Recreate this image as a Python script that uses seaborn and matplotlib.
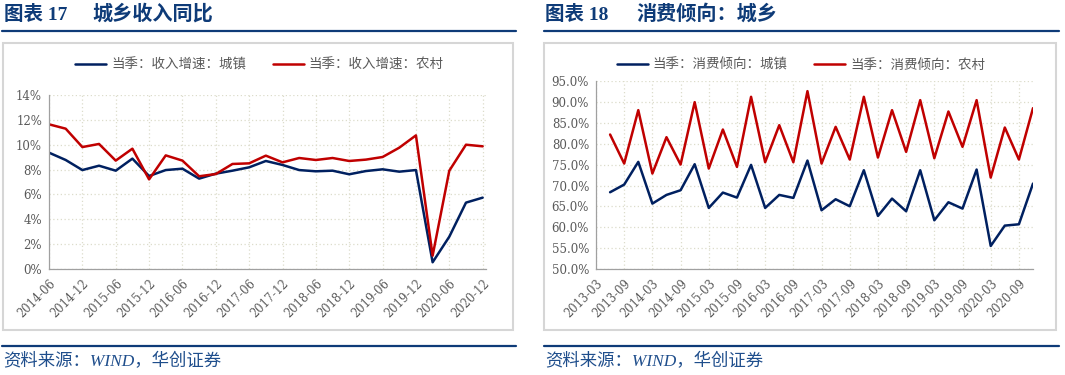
import numpy as np
import pandas as pd
import seaborn as sns
import matplotlib
matplotlib.use("Agg")
import matplotlib.pyplot as plt
from matplotlib.lines import Line2D
from matplotlib.patches import Rectangle
from matplotlib.ticker import FuncFormatter

# ---- data ----
income_quarters = ["2014-06", "2014-09", "2014-12", "2015-03", "2015-06", "2015-09", "2015-12",
                   "2016-03", "2016-06", "2016-09", "2016-12", "2017-03", "2017-06", "2017-09",
                   "2017-12", "2018-03", "2018-06", "2018-09", "2018-12", "2019-03", "2019-06",
                   "2019-09", "2019-12", "2020-03", "2020-06", "2020-09", "2020-12"]
urban_income = [9.36, 8.77, 7.96, 8.31, 7.91, 8.88, 7.48, 7.96, 8.07, 7.27, 7.67, 7.91, 8.18, 8.69,
                8.37, 7.96, 7.86, 7.91, 7.62, 7.88, 8.02, 7.83, 7.96, 0.54, 2.60, 5.34, 5.74]
rural_income = [11.64, 11.29, 9.81, 10.06, 8.72, 9.68, 7.21, 9.14, 8.72, 7.46, 7.64, 8.45, 8.50, 9.12,
                8.58, 8.93, 8.77, 8.93, 8.69, 8.80, 9.01, 9.76, 10.75, 1.07, 7.91, 10.00, 9.87]

mpc_quarters = ["2013-03", "2013-06", "2013-09", "2013-12", "2014-03", "2014-06", "2014-09", "2014-12",
                "2015-03", "2015-06", "2015-09", "2015-12", "2016-03", "2016-06", "2016-09", "2016-12",
                "2017-03", "2017-06", "2017-09", "2017-12", "2018-03", "2018-06", "2018-09", "2018-12",
                "2019-03", "2019-06", "2019-09", "2019-12", "2020-03", "2020-06", "2020-09", "2020-12"]
# first quarter (2013-03) has no value
urban_mpc = [None, 68.40, 70.24, 75.68, 65.68, 67.76, 68.88, 75.12, 64.64, 68.32, 67.12, 74.96, 64.64,
             67.76, 67.04, 76.00, 64.08, 66.72, 65.04, 73.68, 62.72, 66.88, 63.84, 73.68, 61.68,
             66.00, 64.48, 73.84, 55.52, 60.40, 60.72, 70.48]
rural_mpc = [None, 82.24, 75.28, 88.08, 72.88, 81.60, 75.04, 90.00, 74.08, 83.44, 74.48, 91.28, 75.60,
             84.48, 75.60, 92.64, 75.28, 84.08, 76.24, 91.28, 76.72, 88.08, 78.08, 90.48, 76.56,
             87.76, 79.28, 90.48, 71.92, 83.92, 76.24, 88.56]

income_names = ["当季：收入增速：城镇", "当季：收入增速：农村"]
mpc_names = ["当季：消费倾向：城镇", "当季：消费倾向：农村"]

NAVY = "#002060"
RED = "#C00000"
TITLE_BLUE = "#0e3b78"
TXT = "#595959"
GRID = "#dcdccb"

sns.set_style("white")
plt.rcParams["font.family"] = ["DejaVu Serif", "Noto Sans CJK SC"]

fig = plt.figure(figsize=(10.65, 3.75), dpi=100)

df_inc = pd.DataFrame({"pos": list(range(len(income_quarters))) * 2,
                       "val": urban_income + rural_income,
                       "series": [income_names[0]] * len(urban_income) + [income_names[1]] * len(rural_income)})
df_mpc = pd.DataFrame({"pos": list(range(len(mpc_quarters))) * 2,
                       "val": urban_mpc + rural_mpc,
                       "series": [mpc_names[0]] * len(urban_mpc) + [mpc_names[1]] * len(rural_mpc)}).dropna()
df_mpc["val"] = df_mpc["val"].astype(float)

ax1 = fig.add_axes([49 / 1065, 0.2827, (486 - 49) / 1065, 0.464])
ax2 = fig.add_axes([596 / 1065, 0.2827, (1033 - 596) / 1065, 0.5005])

sns.lineplot(data=df_inc, x="pos", y="val", hue="series", palette=[NAVY, RED],
             linewidth=1.8, ax=ax1, legend=False)
sns.lineplot(data=df_mpc, x="pos", y="val", hue="series", palette=[NAVY, RED],
             linewidth=1.8, ax=ax2, legend=False)


def style_axis(ax, cats, ylim, ystep, fmt, xpad):
    ax.set_xlim(0, len(cats) - 1 + xpad)
    ax.set_ylim(*ylim)
    ticks = list(range(0, len(cats), 2))
    ax.set_xticks(ticks)
    ax.set_xticklabels([cats[i] for i in ticks], rotation=45, ha="right", va="top",
                       rotation_mode="anchor", fontsize=8.3, color=TXT)
    ax.set_yticks(np.arange(ylim[0], ylim[1] + 0.001, ystep))
    ax.yaxis.set_major_formatter(FuncFormatter(fmt))
    ax.tick_params(axis="y", labelsize=8.5, labelcolor=TXT, length=3, color="#a0a0a0", pad=2)
    ax.tick_params(axis="x", length=3, color="#a0a0a0", pad=3)
    ax.grid(True, color=GRID, linestyle=(0, (1, 2)), linewidth=0.9)
    for s in ["top", "right"]:
        ax.spines[s].set_visible(False)
    for s in ["left", "bottom"]:
        ax.spines[s].set_color("#a0a0a0")
        ax.spines[s].set_linewidth(0.9)
    ax.set_xlabel("")
    ax.set_ylabel("")
    ax.set_facecolor("none")


style_axis(ax1, income_quarters, (0, 14), 2, lambda v, p: f"{v:.0f}%", 0.2)
style_axis(ax2, mpc_quarters, (50, 95), 5, lambda v, p: f"{v:.1f}%", 0.0)

cjk = ["Noto Sans CJK SC", "DejaVu Sans"]
for ax, names, cx in [(ax1, income_names, 259.5 / 1065), (ax2, mpc_names, 801 / 1065)]:
    handles = [Line2D([], [], color=c, lw=1.8) for c in (NAVY, RED)]
    fig.legend(handles, names, loc="center", bbox_to_anchor=(cx, 0.827), ncol=2, frameon=False,
               handlelength=2.3, handletextpad=0.35, columnspacing=2.0,
               prop={"family": cjk, "size": 9.7}, labelcolor=TXT)

# chart boxes
for x0, x1 in [(3, 513), (544, 1056)]:
    fig.add_artist(Rectangle((x0 / 1065, (375 - 330) / 375), (x1 - x0) / 1065, (330 - 43) / 375,
                             transform=fig.transFigure, fill=False, edgecolor="#d6d6d6", linewidth=1.5))

# title rules and footer rules
for x0, x1 in [(2, 516), (544, 1059)]:
    for yy in [31, 345.5]:
        fig.add_artist(Line2D([x0 / 1065, x1 / 1065], [(375 - yy) / 375] * 2,
                              transform=fig.transFigure, color=TITLE_BLUE, linewidth=1.6))

title_font = ["Liberation Serif", "Noto Sans CJK SC"]
fig.text(4 / 1065, 0.962, "图表 17", family=title_font, weight="bold", fontsize=14, color=TITLE_BLUE, va="center")
fig.text(92 / 1065, 0.962, "城乡收入同比", family=title_font, weight="bold", fontsize=14.5, color=TITLE_BLUE, va="center")
fig.text(545 / 1065, 0.962, "图表 18", family=title_font, weight="bold", fontsize=14, color=TITLE_BLUE, va="center")
fig.text(636 / 1065, 0.962, "消费倾向：城乡", family=title_font, weight="bold", fontsize=14.5, color=TITLE_BLUE, va="center")

for x in [3, 545]:
    fig.text(x / 1065, (375 - 362) / 375, "资料来源：WIND，华创证券", family=title_font, style="italic",
             fontsize=12.5, color="#1f4e8c", va="center")

fig.savefig("out.png", dpi=100)
